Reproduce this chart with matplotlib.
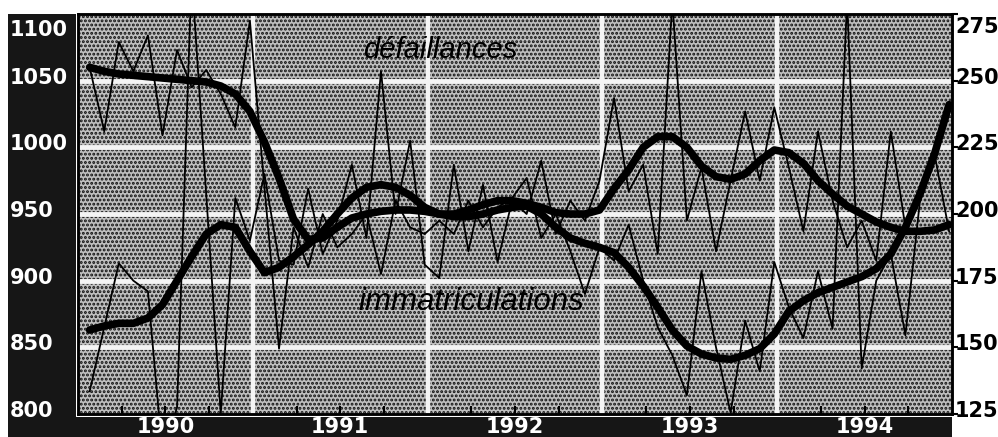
import matplotlib
matplotlib.use("Agg")
import matplotlib.pyplot as plt
import matplotlib.transforms as mtransforms
from matplotlib.patches import Rectangle
import numpy as np
import pandas as pd

# mensuel, janv. 1990 - dec. 1994
dates = pd.date_range("1990-01-01", periods=60, freq="MS")
x = dates.year + (dates.month - 0.2) / 12

# immatriculations (echelle de gauche)
immat_brut = [1060, 1012, 1079, 1057, 1084, 1009, 1073, 1045, 1058, 1040, 1015, 1095,
              970, 849, 940, 910, 950, 925, 935, 950, 905, 960, 940, 935,
              945, 935, 960, 940, 955, 962, 977, 932, 950, 922, 890, 925,
              915, 942, 900, 865, 844, 814, 907, 850, 801, 870, 832, 914,
              880, 857, 907, 864, 1110, 834, 900, 920, 859, 960, 990, 1027]
immat_lisse = [1060, 1057, 1055, 1054, 1053, 1052, 1051, 1050, 1049, 1046, 1040, 1027,
               1004, 977, 946, 931, 932, 940, 947, 950, 952, 953, 953, 952,
               950, 948, 948, 950, 953, 955, 956, 950, 940, 932, 928, 925,
               921, 910, 896, 880, 863, 851, 845, 842, 841, 844, 849, 860,
               877, 885, 891, 895, 899, 903, 909, 920, 940, 965, 995, 1032]

# defaillances (echelle de droite)
defail_brut = [133.5, 157.5, 181.5, 175, 171, 110, 127.5, 290, 207.5, 125, 206, 190,
               215, 182.5, 181, 209.5, 185, 197.5, 218.5, 191, 253.5, 200, 227.5, 181,
               176, 218.5, 186, 211, 182, 205, 200, 220, 192.5, 205, 197.5, 212.5,
               243.5, 208.5, 218.5, 185, 280, 197.5, 217.5, 186, 212.5, 238.5, 212.5, 240,
               217.5, 193.5, 231, 205, 187.5, 197.5, 182.5, 231, 195, 205, 222.5, 193.5]
defail_lisse = [156.5, 158, 159, 159, 161, 166, 175, 184, 192.5, 196, 195, 186,
                178, 180, 184, 188.5, 193.5, 200, 206, 210, 211, 210, 207, 202.5,
                200, 200, 201.5, 203.5, 205, 205, 204, 202.5, 200.5, 200, 200, 201.5,
                209.5, 216.5, 225, 229, 229, 225, 218, 214, 213, 215, 220, 224,
                223, 219, 212.5, 207.5, 203, 200, 197, 195, 193.5, 193.5, 194, 196]

ticks_gauche = [800, 850, 900, 950, 1000, 1050, 1100]
ticks_droite = [125, 150, 175, 200, 225, 250, 275]
annees = [1990, 1991, 1992, 1993, 1994]

W, H = 998, 437
fig = plt.figure(figsize=(W / 100, H / 100), dpi=100)
ax = fig.add_axes([78 / W, (H - 414) / H, 874 / W, 400 / H])

# bandeaux noirs gauche et bas
fig.add_artist(Rectangle((8 / W, 0), 68 / W, (H - 14) / H, transform=fig.transFigure,
                         facecolor="#161616", edgecolor="none", zorder=-1))
fig.add_artist(Rectangle((8 / W, 0), 944 / W, 20 / H, transform=fig.transFigure,
                         facecolor="#161616", edgecolor="none", zorder=-1))

# fond trame grise
plt.rcParams["hatch.linewidth"] = 1.4
ax.patch.set_visible(False)
ax.add_patch(Rectangle((0, 0), 1, 1, transform=ax.transAxes, facecolor="#bfbfbf",
                       hatch="....", edgecolor="#111111", lw=0, zorder=0))

for v in [850, 900, 950, 1000, 1050]:
    ax.axhline(v, color="#f4f4f4", lw=3.5, zorder=1)
for a in annees[1:]:
    ax.axvline(a, color="#f4f4f4", lw=3.2, zorder=1)

ax.plot(x, immat_brut, color="black", lw=1.3, zorder=3)
ax.plot(x, immat_lisse, color="black", lw=5.5, solid_capstyle="round", zorder=4)
ax.set_xlim(1990, 1995)
ax.set_ylim(800, 1100)

ax2 = ax.twinx()
ax2.plot(x, defail_brut, color="black", lw=1.3, zorder=3)
ax2.plot(x, defail_lisse, color="black", lw=5.5, solid_capstyle="round", zorder=4)
ax2.set_ylim(125, 275)

for a_ in (ax, ax2):
    for s in a_.spines.values():
        s.set_linewidth(1.8)
        s.set_color("black")

quarts = [a + q for a in annees for q in (0.25, 0.5, 0.75)]
ax.set_xticks(quarts)
ax.tick_params(axis="x", direction="in", length=6, width=1.5, labelbottom=False)
ax.set_yticks([])
ax2.set_yticks(ticks_droite)
ax2.tick_params(axis="y", direction="out", length=4, width=1.5, labelright=False)

# etiquettes des axes
tr_g = mtransforms.blended_transform_factory(fig.transFigure, ax.transData)
tr_d = mtransforms.blended_transform_factory(fig.transFigure, ax2.transData)
for v in ticks_gauche:
    dy = -16 if v == 1100 else 3
    t = mtransforms.offset_copy(tr_g, fig=fig, y=dy, units="dots")
    fig.text(10 / W, v, str(v), transform=t, color="white", fontsize=15,
             fontweight="bold", ha="left", va="center")
for v in ticks_droite:
    dy = -13 if v == 275 else 3
    t = mtransforms.offset_copy(tr_d, fig=fig, y=dy, units="dots")
    fig.text(955 / W, v, str(v), transform=t, color="black", fontsize=15,
             fontweight="bold", ha="left", va="center")

tr_x = mtransforms.blended_transform_factory(ax.transData, fig.transFigure)
for a in annees:
    fig.text(a + 0.5, (H - 427) / H, str(a), transform=tr_x, color="white",
             fontsize=15, fontweight="bold", ha="center", va="center")

ax.text(1992.07, 1073, "défaillances", family="Liberation Sans", style="italic",
        fontsize=21, ha="center", va="center", zorder=5)
ax.text(1992.25, 884, "immatriculations", family="Liberation Sans", style="italic",
        fontsize=22.5, ha="center", va="center", zorder=5)

fig.savefig("out.png", dpi=100)
